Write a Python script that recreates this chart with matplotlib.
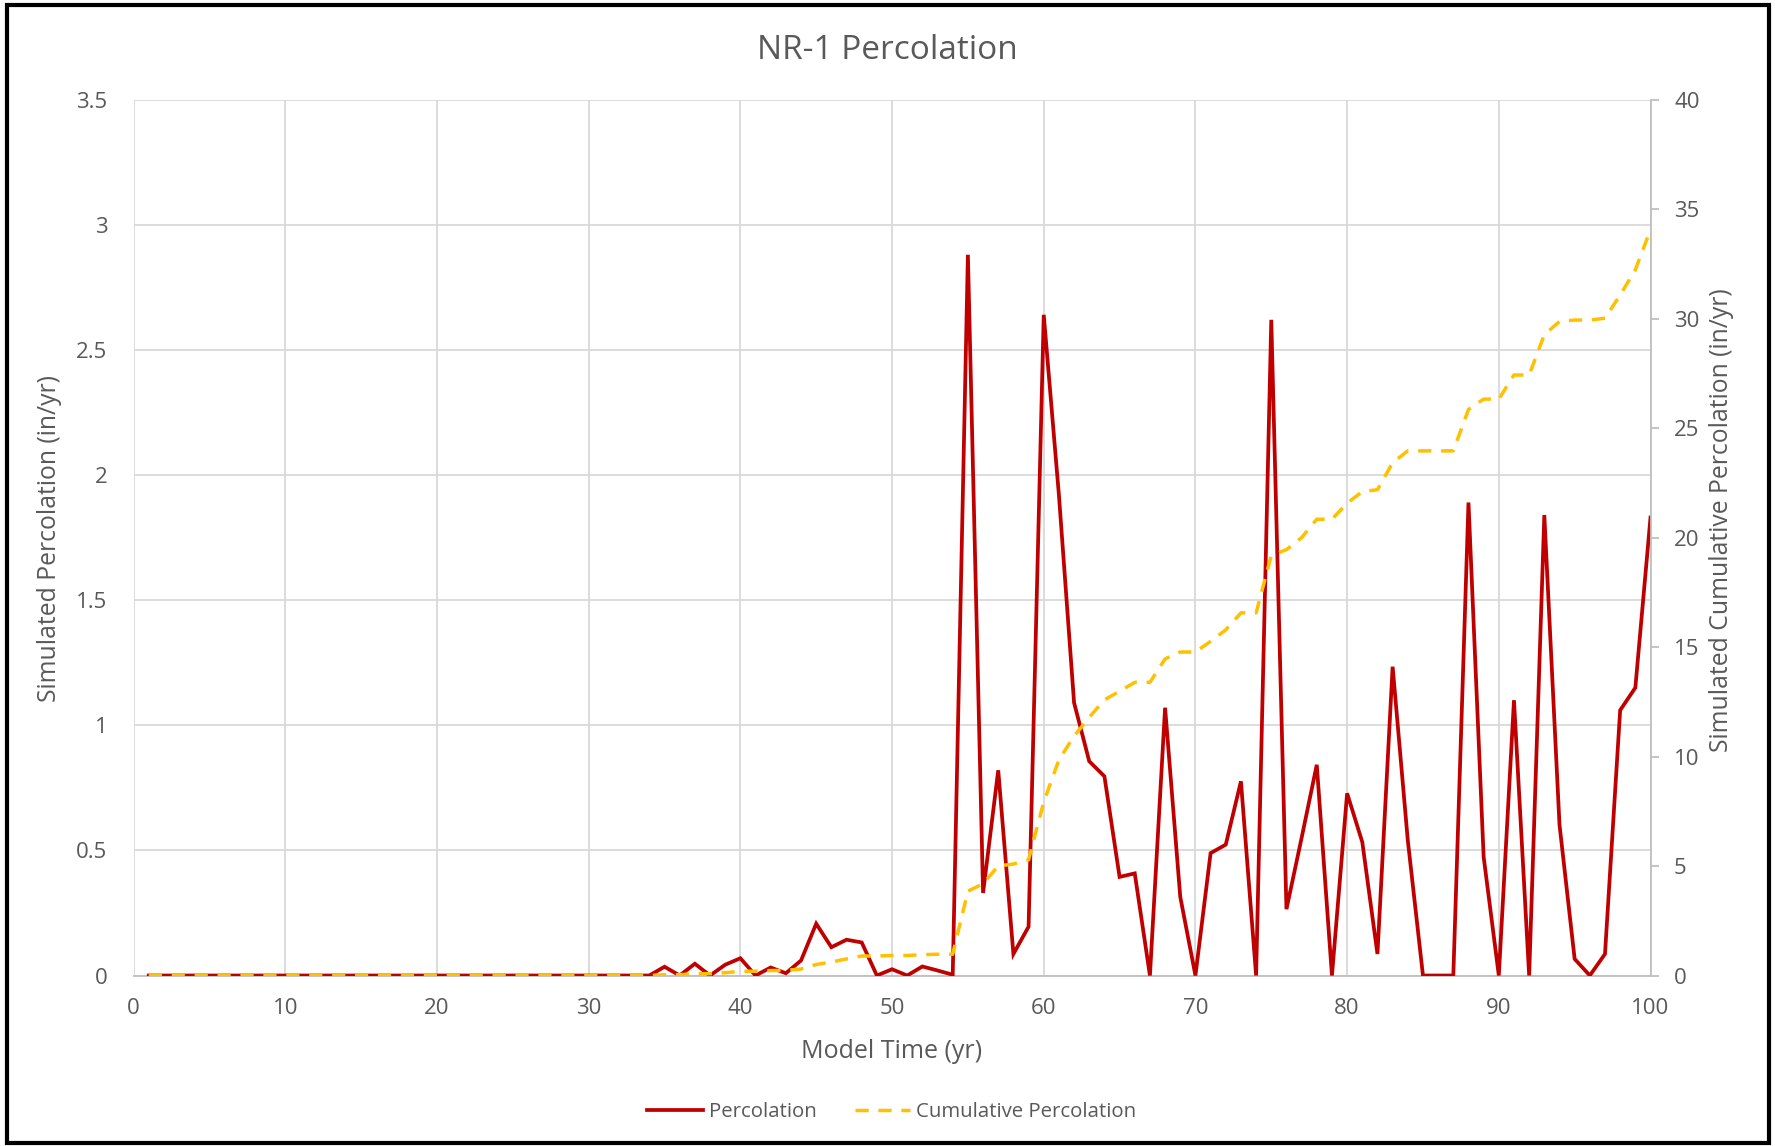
import matplotlib
matplotlib.use("Agg")
import matplotlib.pyplot as plt
from matplotlib.patches import Rectangle
from matplotlib.ticker import FuncFormatter

# ---------------- data ----------------
years = list(range(1, 101))
percolation = [0.0] * 34 + [
    0.035, 0.0, 0.047, 0.0, 0.043, 0.069, 0.0, 0.032, 0.009, 0.060,   # 35-44
    0.207, 0.113, 0.143, 0.132, 0.0, 0.025, 0.0, 0.036, 0.020, 0.003,  # 45-54
    2.88, 0.33, 0.82, 0.086, 0.195, 2.64, 1.92, 1.09, 0.856, 0.796,    # 55-64
    0.394, 0.408, 0.0, 1.07, 0.314, 0.0, 0.489, 0.523, 0.776, 0.0,     # 65-74
    2.62, 0.265, 0.55, 0.842, 0.0, 0.728, 0.533, 0.086, 1.234, 0.54,   # 75-84
    0.0, 0.0, 0.0, 1.89, 0.474, 0.0, 1.10, 0.0, 1.84, 0.603,           # 85-94
    0.066, 0.0, 0.086, 1.06, 1.15, 1.83,                               # 95-100
]
cumulative = [0.0] * 34 + [
    0.035, 0.035, 0.082, 0.082, 0.125, 0.194, 0.194, 0.226, 0.235, 0.295,
    0.502, 0.615, 0.758, 0.890, 0.890, 0.915, 0.915, 0.951, 0.971, 0.974,
    3.854, 4.184, 5.004, 5.090, 5.285, 7.925, 9.845, 10.935, 11.791, 12.587,
    12.981, 13.389, 13.389, 14.459, 14.773, 14.773, 15.262, 15.785, 16.561, 16.561,
    19.181, 19.446, 19.996, 20.838, 20.838, 21.566, 22.099, 22.185, 23.419, 23.959,
    23.959, 23.959, 23.959, 25.849, 26.323, 26.323, 27.423, 27.423, 29.263, 29.866,
    29.932, 29.932, 30.018, 31.078, 32.228, 34.058,
]
x_ticks = list(range(0, 101, 10))
left_ticks = [0, 0.5, 1, 1.5, 2, 2.5, 3, 3.5]
right_ticks = list(range(0, 41, 5))

title = "NR-1 Percolation"
xlabel = "Model Time (yr)"
ylabel_left = "Simulated Percolation (in/yr)"
ylabel_right = "Simulated Cumulative Percolation (in/yr)"
series_names = ["Percolation", "Cumulative Percolation"]

# ---------------- style ----------------
FONT = ["Open Sans", "DejaVu Sans"]
plt.rcParams["font.family"] = FONT
TXT = "#595959"
GRID = "#D9D9D9"
AXC = "#BFBFBF"
RED = "#C00000"
ORANGE = "#FFC000"

W, H = 1775, 1146
fig = plt.figure(figsize=(W / 100, H / 100), dpi=100)

L, R, T, B = 133.6, 1650.5, 99.6, 975.5
ax = fig.add_axes([L / W, 1 - B / H, (R - L) / W, (B - T) / H])
ax2 = ax.twinx()

ax.plot(years, percolation, color=RED, lw=2.7, solid_joinstyle="miter",
        label=series_names[0], zorder=3)
ax2.plot(years, cumulative, color=ORANGE, lw=2.5, dashes=(3.8, 2.8),
         label=series_names[1], zorder=3)

ax.set_xlim(0, 100)
ax.set_ylim(0, 3.5)
ax2.set_ylim(0, 40)
ax.set_xticks(x_ticks)
ax.set_yticks(left_ticks)
ax2.set_yticks(right_ticks)
fmt = FuncFormatter(lambda v, p: f"{v:g}")
ax.yaxis.set_major_formatter(fmt)

ax.grid(True, color=GRID, lw=1.3)
ax.set_axisbelow(True)

for s in ["top", "left", "right"]:
    ax.spines[s].set_visible(False)
ax.spines["bottom"].set_color(AXC)
ax.spines["bottom"].set_linewidth(1.3)
for s in ["top", "left", "bottom"]:
    ax2.spines[s].set_visible(False)
ax2.spines["right"].set_color(AXC)
ax2.spines["right"].set_linewidth(1.3)

ax.tick_params(axis="x", length=0, pad=16, labelsize=16, labelcolor=TXT)
ax.tick_params(axis="y", length=0, pad=19, labelsize=16, labelcolor=TXT)
ax2.tick_params(axis="y", length=6, width=1.3, color=AXC, pad=11,
                labelsize=16, labelcolor=TXT)

# axis titles (centred on measured positions)
fig.text(892 / W, 1 - 1051 / H, xlabel, fontsize=18, color=TXT,
         ha="center", va="center")
fig.text(50 / W, 1 - 538 / H, ylabel_left, fontsize=17.8, color=TXT,
         ha="center", va="center", rotation=90)
fig.text(1722 / W, 1 - 520 / H, ylabel_right, fontsize=17.8, color=TXT,
         ha="center", va="center", rotation=90)

fig.text(0.5, 1 - 50.5 / H, title, fontsize=24, color=TXT,
         ha="center", va="center")

h1, l1 = ax.get_legend_handles_labels()
h2, l2 = ax2.get_legend_handles_labels()
fig.legend(h1 + h2, l1 + l2, loc="center", bbox_to_anchor=(892 / W, 1 - 1112 / H),
           ncol=2, frameon=False, fontsize=14.7, labelcolor=TXT,
           handlelength=2.7, handletextpad=0.3, columnspacing=1.9)

# outer border
fig.patches.append(Rectangle((7.5 / W, 1 - 1143 / H), (1769 - 7.5) / W, (1143 - 4.5) / H,
                             transform=fig.transFigure, fill=False,
                             edgecolor="black", lw=3.0, zorder=10))

fig.savefig("out.png", dpi=100, facecolor="white")
